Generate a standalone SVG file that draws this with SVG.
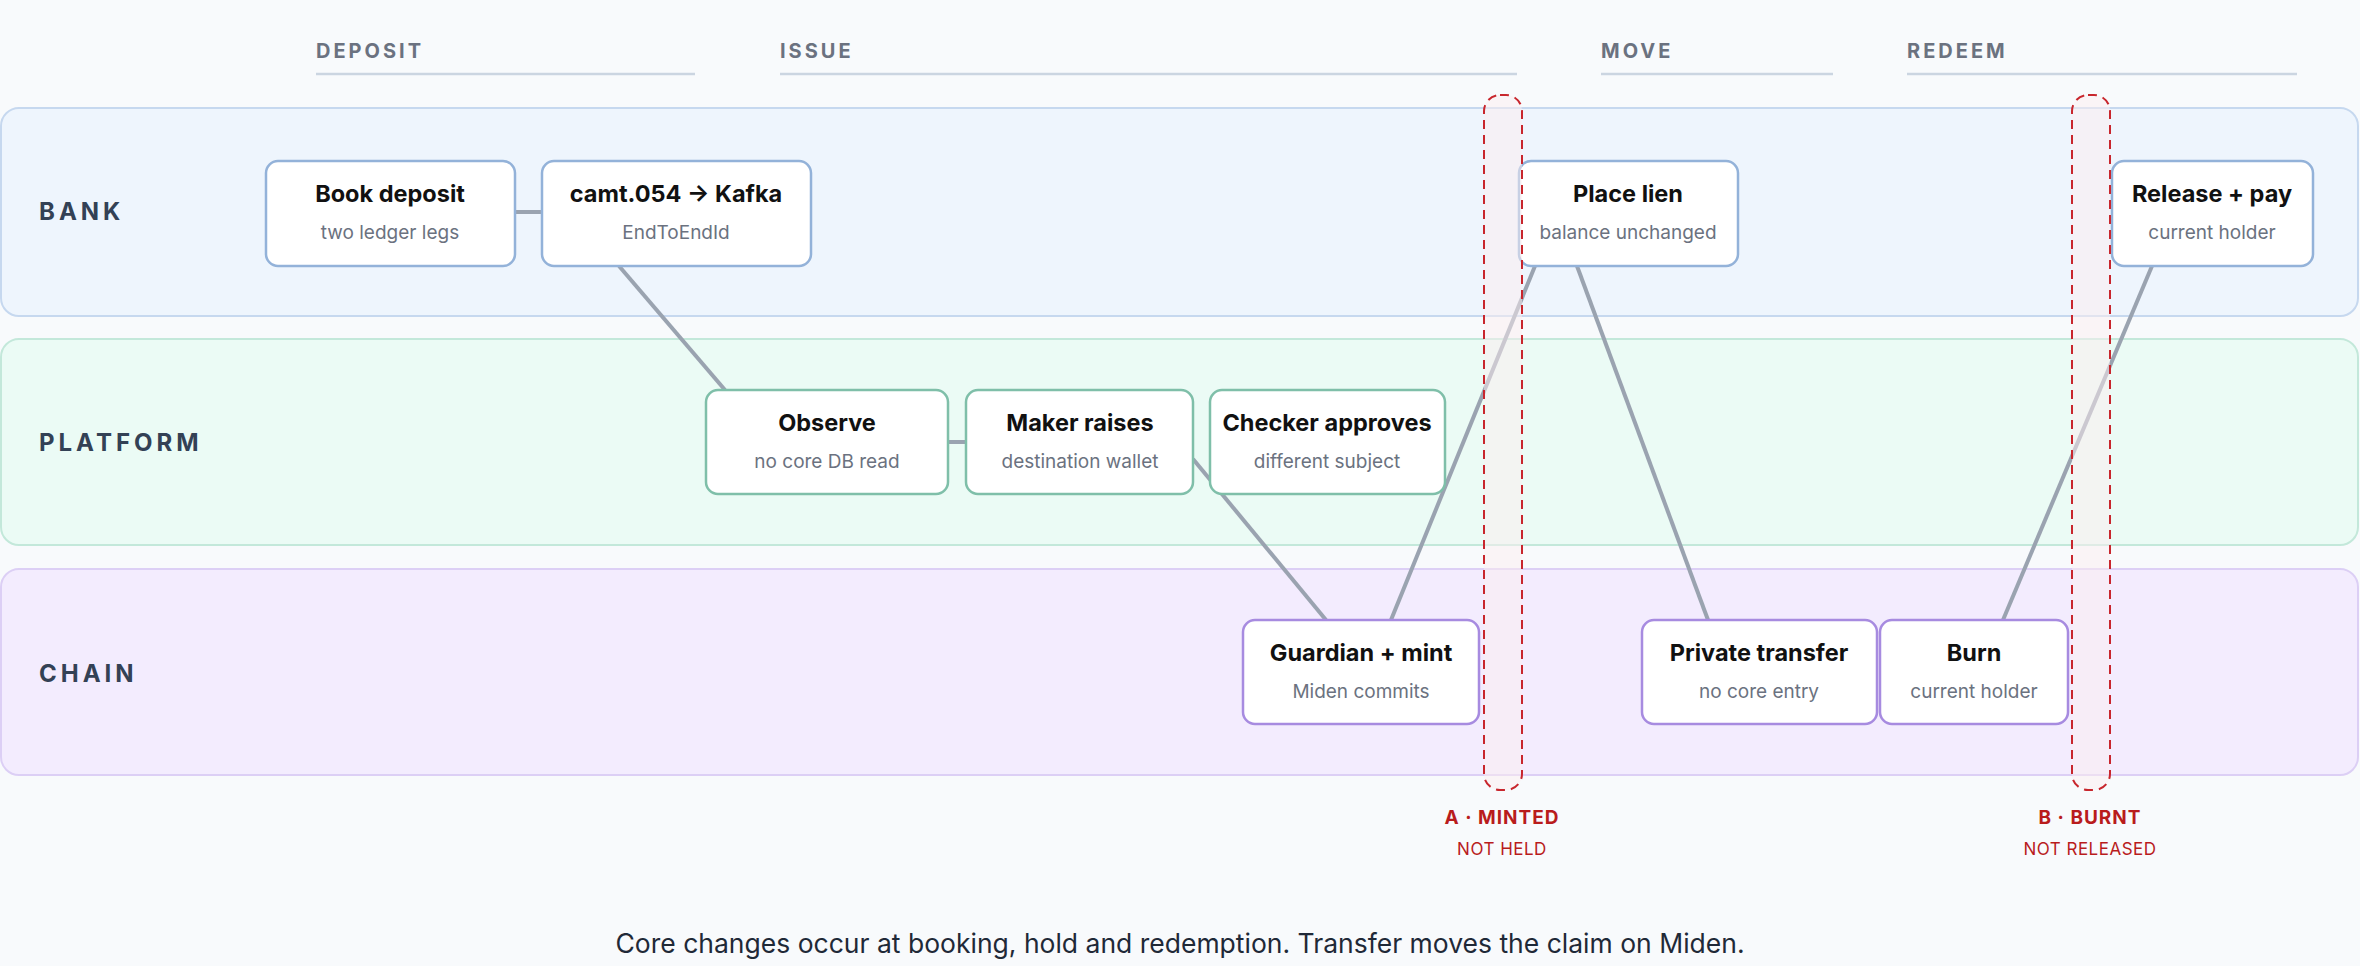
<svg xmlns="http://www.w3.org/2000/svg" width="2360" height="966" viewBox="0 0 2360 966">
<style>
.ph{font-family:"Inter","Liberation Sans",sans-serif;font-size:20px;font-weight:700;fill:#6b7280;letter-spacing:3px}
.phl{stroke:#cbd5e1;stroke-width:2.5}
.ln{font-family:"Inter","Liberation Sans",sans-serif;font-size:24px;font-weight:700;fill:#334155;letter-spacing:4px}
.nd{fill:#fff;stroke-width:2.5}
.bk{stroke:#93b2d9}.pf{stroke:#7fbfa9}.ch{stroke:#a78be0}
.t{font-family:"Inter","Liberation Sans",sans-serif;font-size:23.5px;font-weight:700;fill:#111;text-anchor:middle}
.s{font-family:"Inter","Liberation Sans",sans-serif;font-size:19px;fill:#6b7280;text-anchor:middle}
.c{stroke:#9aa3b0;stroke-width:4;fill:none}
.d{fill:#fbeef0;fill-opacity:0.5;stroke:#c8262d;stroke-width:2;stroke-dasharray:9 6}
.rt{font-family:"Inter","Liberation Sans",sans-serif;font-size:19px;font-weight:700;fill:#b91c1c;text-anchor:middle;letter-spacing:1px}
.rs{font-family:"Inter","Liberation Sans",sans-serif;font-size:17px;fill:#b91c1c;text-anchor:middle;letter-spacing:0.5px}
</style>
<rect width="2360" height="966" fill="#f8fafc"/>
<g id="phases">
<text class="ph" x="316" y="58">DEPOSIT</text><line class="phl" x1="316" y1="74" x2="695" y2="74"/>
<text class="ph" x="780" y="58">ISSUE</text><line class="phl" x1="780" y1="74" x2="1517" y2="74"/>
<text class="ph" x="1601" y="58">MOVE</text><line class="phl" x1="1601" y1="74" x2="1833" y2="74"/>
<text class="ph" x="1907" y="58">REDEEM</text><line class="phl" x1="1907" y1="74" x2="2297" y2="74"/>
</g>
<g id="lanes">
<rect x="1" y="108" width="2357" height="208" rx="18" fill="#eef5fd" stroke="#c6d8ef" stroke-width="2"/>
<rect x="1" y="339" width="2357" height="206" rx="18" fill="#ebfbf5" stroke="#c3e8da" stroke-width="2"/>
<rect x="1" y="569" width="2357" height="206" rx="18" fill="#f3ecfe" stroke="#dccff5" stroke-width="2"/>
<text class="ln" x="39" y="220">BANK</text>
<text class="ln" x="39" y="451">PLATFORM</text>
<text class="ln" x="39" y="682">CHAIN</text>
</g>
<g id="connectors">
<line class="c" x1="515" y1="212" x2="542" y2="212"/>
<line class="c" x1="619" y1="266" x2="725" y2="390"/>
<line class="c" x1="948" y1="442" x2="966" y2="442"/>
<line class="c" x1="1193" y1="459" x2="1326" y2="620"/>
<line class="c" x1="1391" y1="620" x2="1535" y2="266"/>
<line class="c" x1="1577" y1="266" x2="1708" y2="620"/>
<line class="c" x1="2003" y1="620" x2="2152" y2="266"/>
</g>
<g id="book"><rect class="nd bk" x="266" y="161" width="249" height="105" rx="12"/><text class="t" x="390" y="202">Book deposit</text><text class="s" x="390" y="239">two ledger legs</text></g>
<g id="camt"><rect class="nd bk" x="542" y="161" width="269" height="105" rx="12"/><text class="t" x="676" y="202">camt.054 → Kafka</text><text class="s" x="676" y="239">EndToEndId</text></g>
<g id="observe"><rect class="nd pf" x="706" y="390" width="242" height="104" rx="12"/><text class="t" x="827" y="431">Observe</text><text class="s" x="827" y="468">no core DB read</text></g>
<g id="maker"><rect class="nd pf" x="966" y="390" width="227" height="104" rx="12"/><text class="t" x="1080" y="431">Maker raises</text><text class="s" x="1080" y="468">destination wallet</text></g>
<g id="checker"><rect class="nd pf" x="1210" y="390" width="235" height="104" rx="12"/><text class="t" x="1327" y="431">Checker approves</text><text class="s" x="1327" y="468">different subject</text></g>
<g id="guardian"><rect class="nd ch" x="1243" y="620" width="236" height="104" rx="12"/><text class="t" x="1361" y="661">Guardian + mint</text><text class="s" x="1361" y="698">Miden commits</text></g>
<g id="lien"><rect class="nd bk" x="1519" y="161" width="219" height="105" rx="12"/><text class="t" x="1628" y="202">Place lien</text><text class="s" x="1628" y="239">balance unchanged</text></g>
<g id="transfer"><rect class="nd ch" x="1642" y="620" width="235" height="104" rx="12"/><text class="t" x="1759" y="661">Private transfer</text><text class="s" x="1759" y="698">no core entry</text></g>
<g id="burn"><rect class="nd ch" x="1880" y="620" width="188" height="104" rx="12"/><text class="t" x="1974" y="661">Burn</text><text class="s" x="1974" y="698">current holder</text></g>
<g id="release"><rect class="nd bk" x="2112" y="161" width="201" height="105" rx="12"/><text class="t" x="2212" y="202">Release + pay</text><text class="s" x="2212" y="239">current holder</text></g>
<g id="markA"><rect class="d" x="1484" y="95" width="38" height="695" rx="16"/><text class="rt" x="1502" y="824">A · MINTED</text><text class="rs" x="1502" y="855">NOT HELD</text></g>
<g id="markB"><rect class="d" x="2072" y="95" width="38" height="695" rx="16"/><text class="rt" x="2090" y="824">B · BURNT</text><text class="rs" x="2090" y="855">NOT RELEASED</text></g>
<text x="1180" y="953" font-family="Inter, 'Liberation Sans', sans-serif" font-size="26.5" fill="#1f2937" text-anchor="middle">Core changes occur at booking, hold and redemption. Transfer moves the claim on Miden.</text>
</svg>
